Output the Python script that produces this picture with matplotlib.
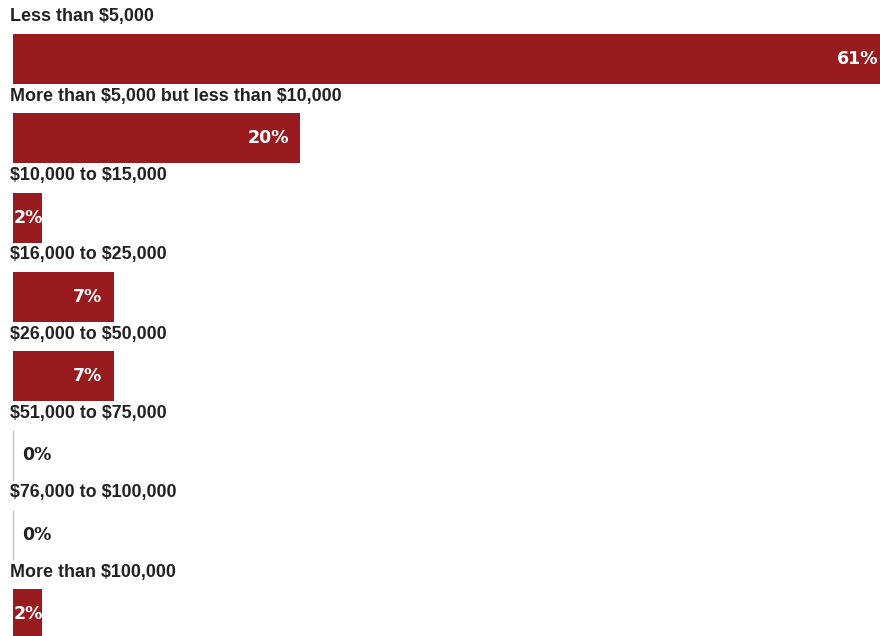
import matplotlib
matplotlib.use('Agg')
import matplotlib.pyplot as plt
from matplotlib import font_manager

categories = ['Less than $5,000',
              'More than $5,000 but less than $10,000',
              '$10,000 to $15,000',
              '$16,000 to $25,000',
              '$26,000 to $50,000',
              '$51,000 to $75,000',
              '$76,000 to $100,000',
              'More than $100,000']
shares = [61, 20, 2, 7, 7, 0, 0, 2]

barcol = '#981b20'
txtcol = '#222222'

plt.rcParams['text.parse_math'] = False

catfp = font_manager.FontProperties(family='Liberation Sans', weight='bold', size=12.9)
valfp = font_manager.FontProperties(family='DejaVu Sans', weight='bold', size=12.5)

W, H = 880, 636
fig = plt.figure(figsize=(W/100, H/100), dpi=100)
x0 = 13
ax = fig.add_axes([x0/W, 0, (W-x0)/W, 1])
ppu = 14.37  # pixels per percentage point, the top bar runs off the right edge
ax.set_xlim(0, (W-x0)/ppu)
row = 79.3
top = 59.0
ax.set_ylim((H-top)/row, -top/row)
ax.axis('off')

px = 1/ppu  # data units per pixel on x
for i, (c, v) in enumerate(zip(categories, shares)):
    ax.text(-3*px, i-42/row, c, ha='left', va='center', fontproperties=catfp,
            color=txtcol, clip_on=False)
    if v == 0:
        ax.plot([0, 0], [i-25/row, i+25/row], color='#e3b9b9', lw=1,
                solid_capstyle='butt', clip_on=False)
        ax.text(9*px, i, '%d%%' % v, ha='left', va='center',
                fontproperties=valfp, color=txtcol)
        continue
    bar = ax.barh(i, v, height=50/row, left=0, color=barcol, edgecolor='none',
                  clip_on=False)[0]
    if v < 4:
        t = ax.text(1*px, i, '%d%%' % v, ha='left', va='center',
                    fontproperties=valfp, color='white')
    else:
        t = ax.text(v-11*px, i, '%d%%' % v, ha='right', va='center',
                    fontproperties=valfp, color='white')
    t.set_clip_path(bar)

plt.savefig('out.png', dpi=100)
